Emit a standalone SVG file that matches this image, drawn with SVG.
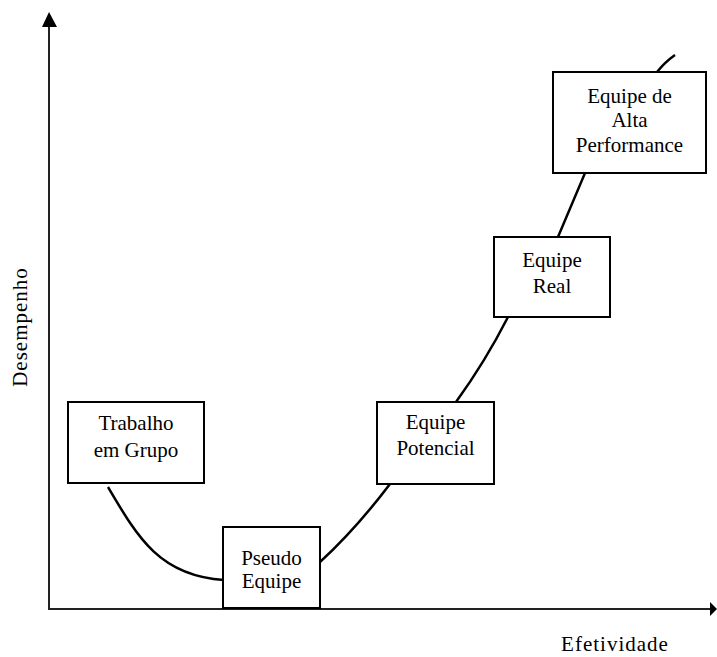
<svg xmlns="http://www.w3.org/2000/svg" width="717" height="657" viewBox="0 0 717 657">
<style>
.box{fill:#fff;stroke:#000;stroke-width:2}
.t{font-family:"Liberation Serif","Times New Roman",serif;font-size:21px;fill:#000;text-anchor:middle}
.ax{stroke:#222;stroke-width:2;fill:none}
.cv{stroke:#000;stroke-width:2.5;fill:none}
</style>
<rect width="717" height="657" fill="#fff"/>
<g id="connectors">
<line class="ax" x1="49" y1="24" x2="49" y2="609"/>
<polygon points="49,12 42,27 57,27" fill="#000"/>
<line class="ax" x1="48" y1="609" x2="712" y2="609"/>
<polygon points="717,609 710,602 710,616" fill="#000"/>
<path class="cv" d="M108,487 C138,538 160,576 224,580"/>
<path class="cv" d="M320,562 Q355,530 390,484 L456,402 Q485,362 508,317 L558,237 L585,173 L657,72 Q665,62 675,55"/>
</g>
<g id="trabalho">
<rect class="box" x="68" y="402" width="136" height="81"/>
<text class="t" x="136" y="430">Trabalho</text>
<text class="t" x="136" y="457">em Grupo</text>
</g>
<g id="pseudo">
<rect class="box" x="223" y="527" width="97" height="81"/>
<text class="t" x="271.5" y="565">Pseudo</text>
<text class="t" x="271.5" y="588">Equipe</text>
</g>
<g id="potencial">
<rect class="box" x="377" y="402" width="117" height="82"/>
<text class="t" x="435.5" y="429">Equipe</text>
<text class="t" x="435.5" y="455">Potencial</text>
</g>
<g id="real">
<rect class="box" x="494" y="237" width="116" height="80"/>
<text class="t" x="552" y="267">Equipe</text>
<text class="t" x="552" y="293">Real</text>
</g>
<g id="alta">
<rect class="box" x="553" y="72" width="153" height="101"/>
<text class="t" x="629.5" y="103">Equipe de</text>
<text class="t" x="629.5" y="127">Alta</text>
<text class="t" x="629.5" y="152">Performance</text>
</g>
<g id="labels">
<text class="t" transform="translate(27,327) rotate(-90)" letter-spacing="1">Desempenho</text>
<text class="t" x="615" y="651" letter-spacing="1">Efetividade</text>
</g>
</svg>
